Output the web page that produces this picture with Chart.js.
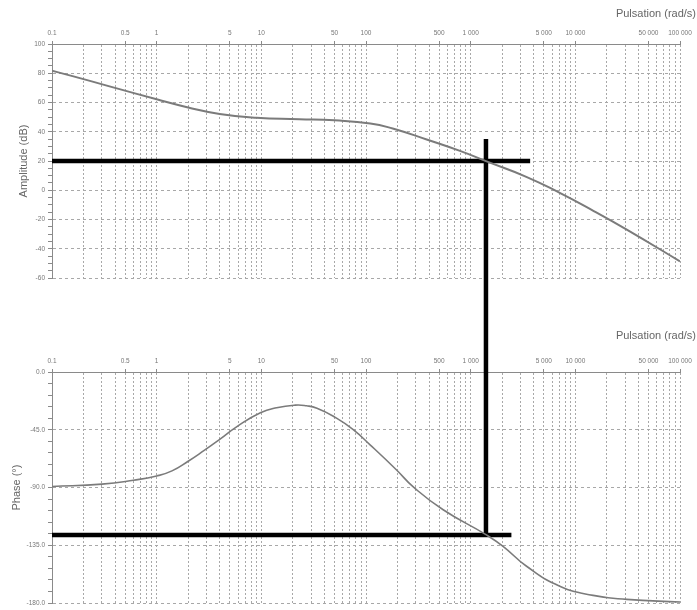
<!DOCTYPE html>
<html>
<head>
<meta charset="utf-8">
<script src="https://cdn.jsdelivr.net/npm/chart.js@4.4.1/dist/chart.umd.min.js"></script>
<style>
  html, body { margin: 0; padding: 0; background: #fff; }
  #wrap { position: relative; width: 697px; height: 610px; }
  .box { position: absolute; left: 0; width: 697px; }
  .pulsation { position: absolute; right: 1px; font: 11px "Liberation Sans", Arial, sans-serif; color: #666; }
</style>
</head>
<body>
<div id="wrap">
  <div class="box" style="top:0;height:330px"><canvas id="gainChart"></canvas></div>
  <div class="box" style="top:330px;height:280px"><canvas id="phaseChart"></canvas></div>
  <div class="pulsation" style="top:7px">Pulsation (rad/s)</div>
  <div class="pulsation" style="top:329px">Pulsation (rad/s)</div>
</div>
<script>
// frequency axis (rad/s)
const freqLabels = [0.1, 0.5, 1, 5, 10, 50, 100, 500, 1000, 5000, 10000, 50000, 100000];
const decades = [0.1, 1, 10, 100, 1000, 10000];

// amplitude curve
const gainFreq = [0.1, 0.2, 0.4, 1, 2, 4, 9, 23, 50, 110, 180, 380, 790, 1400, 3400, 7100, 15000, 31000, 100000];
const gainDb   = [81.7, 76.0, 70.0, 62.2, 56.6, 52.2, 49.5, 48.6, 47.8, 45.7, 42.2, 34.7, 26.9, 19.9, 9.2, -1.8, -14.2, -26.9, -48.6];

// phase curve
const phaseFreq = [0.1, 0.3, 0.6, 1, 1.4, 2, 2.8, 4, 5.8, 9.8, 14, 21, 27, 34, 50, 75, 110, 196, 283, 546, 1400, 2040, 3420, 7100, 14800, 30900, 100000];
const phaseDeg  = [-89.2, -87.3, -84.3, -81.0, -77.0, -69.5, -61.5, -52.5, -42.7, -31.8, -27.8, -25.8, -26.3, -28.2, -35.0, -44.7, -56.9, -76.3, -89.5, -107.3, -126.7, -135.8, -151.3, -166.8, -174, -177.1, -179.2];

// reading lines
const markerFreq = 1400;
const markerGain = 20;
const markerGainTop = 35;
const markerPhase = -127;
const gainLineEnd = 3700;
const phaseLineEnd = 2450;

Chart.defaults.font.family = '"Liberation Sans", Arial, sans-serif';
Chart.defaults.animation = false;

const tickFont = { size: 6.5 };
const gridColor = '#a8a8a8';
const axisColor = '#8a8a8a';

function logTicks(axis) {
  const ticks = [];
  decades.forEach(d => {
    for (let m = 1; m <= 9; m++) ticks.push({ value: +(d * m).toPrecision(6) });
  });
  ticks.push({ value: 100000 });
  axis.ticks = ticks;
}

const fmtFreq = v => v < 1 ? String(v) : String(v).replace(/\B(?=(\d{3})+(?!\d))/g, ' ');

function freqAxis(height) {
  return {
    type: 'logarithmic',
    position: 'top',
    min: 0.1,
    max: 100000,
    afterBuildTicks: logTicks,
    afterFit: s => { s.height = height; },
    grid: {
      color: gridColor,
      tickLength: 3,
      tickColor: c => c.tick && freqLabels.includes(c.tick.value) ? axisColor : 'transparent'
    },
    border: { color: axisColor, dash: [2, 2] },
    ticks: {
      autoSkip: false, maxRotation: 0, padding: 4, color: '#777', font: tickFont,
      callback: v => freqLabels.includes(v) ? fmtFreq(v) : ''
    }
  };
}

function line(data, color, width, clip) {
  return {
    data, borderColor: color, borderWidth: width, pointRadius: 0,
    tension: 0.5, clip: clip
  };
}

const commonPlugins = { legend: { display: false }, tooltip: { enabled: false } };

new Chart(document.getElementById('gainChart'), {
  type: 'line',
  data: {
    datasets: [
      line(gainFreq.map((f, i) => ({ x: f, y: gainDb[i] })), '#7b7b7b', 2),
      line([{ x: 0.1, y: markerGain }, { x: gainLineEnd, y: markerGain }], '#000', 4.5, false),
      line([{ x: markerFreq, y: markerGainTop }, { x: markerFreq, y: -120 }], '#000', 4.5, false)
    ]
  },
  options: {
    responsive: true, maintainAspectRatio: false,
    layout: { padding: { left: 0, right: 17, top: 0, bottom: 52 } },
    plugins: commonPlugins,
    scales: {
      x: freqAxis(44),
      y: {
        min: -60, max: 100,
        afterFit: s => { s.width = 52; },
        ticks: {
          stepSize: 5, autoSkip: false, padding: 3, color: '#777', font: tickFont,
          callback: v => v % 20 === 0 ? String(v) : ''
        },
        grid: {
          color: c => c.tick && c.tick.value % 20 === 0 ? gridColor : 'transparent',
          tickLength: 4, tickColor: axisColor
        },
        border: { color: axisColor, dash: [3, 3] },
        title: { display: true, text: 'Amplitude (dB)', color: '#666', font: { size: 11 }, padding: { top: 17, bottom: 0 } }
      }
    }
  }
});

new Chart(document.getElementById('phaseChart'), {
  type: 'line',
  data: {
    datasets: [
      line(phaseFreq.map((f, i) => ({ x: f, y: phaseDeg[i] })), '#7b7b7b', 1.6),
      line([{ x: 0.1, y: markerPhase }, { x: phaseLineEnd, y: markerPhase }], '#000', 4.5, false),
      line([{ x: markerFreq, y: 60 }, { x: markerFreq, y: markerPhase }], '#000', 4.5, false)
    ]
  },
  options: {
    responsive: true, maintainAspectRatio: false,
    layout: { padding: { left: 0, right: 17, top: 0, bottom: 6 } },
    plugins: commonPlugins,
    scales: {
      x: freqAxis(42),
      y: {
        min: -180, max: 0,
        afterFit: s => { s.width = 52; },
        ticks: {
          stepSize: 9, autoSkip: false, padding: 3, color: '#777', font: tickFont,
          callback: v => v % 45 === 0 ? v.toFixed(1) : ''
        },
        grid: {
          color: c => c.tick && c.tick.value % 45 === 0 ? gridColor : 'transparent',
          tickLength: 4, tickColor: axisColor
        },
        border: { color: axisColor, dash: [3, 3] },
        title: { display: true, text: 'Phase (°)', color: '#666', font: { size: 11 }, padding: { top: 10, bottom: 0 } }
      }
    }
  }
});
</script>
</body>
</html>
